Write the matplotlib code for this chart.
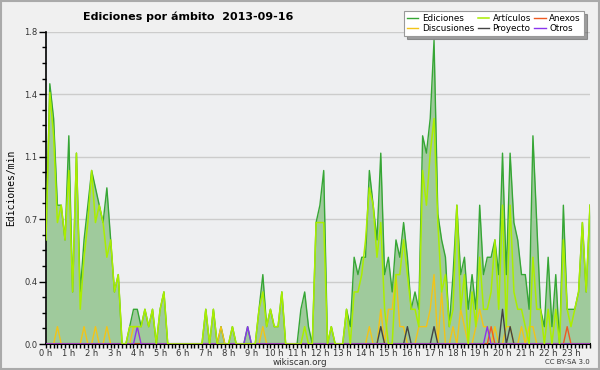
import matplotlib
matplotlib.use("Agg")
import matplotlib.pyplot as plt
import numpy as np
from matplotlib.ticker import FixedLocator, MultipleLocator, FuncFormatter
from matplotlib.patches import Rectangle

# 10-minute slots, 144 per day (edits per minute)
ediciones = [
    0.6, 1.5, 1.3, 0.8, 0.8, 0.6,
    1.2, 0.3, 1.1, 0.3, 0.6, 0.8,
    1.0, 0.9, 0.8, 0.7, 0.9, 0.6,
    0.3, 0.4, 0.0, 0.0, 0.1, 0.2,
    0.2, 0.1, 0.2, 0.1, 0.2, 0.0,
    0.2, 0.3, 0.0, 0.0, 0.0, 0.0,
    0.0, 0.0, 0.0, 0.0, 0.0, 0.0,
    0.2, 0.0, 0.2, 0.0, 0.1, 0.0,
    0.0, 0.1, 0.0, 0.0, 0.0, 0.1,
    0.0, 0.0, 0.2, 0.4, 0.1, 0.2,
    0.1, 0.1, 0.3, 0.0, 0.0, 0.0,
    0.0, 0.2, 0.3, 0.1, 0.0, 0.7,
    0.8, 1.0, 0.0, 0.1, 0.0, 0.0,
    0.0, 0.2, 0.1, 0.5, 0.4, 0.5,
    0.5, 1.0, 0.8, 0.6, 1.1, 0.4,
    0.5, 0.3, 0.6, 0.5, 0.7, 0.5,
    0.2, 0.3, 0.2, 1.2, 1.1, 1.3,
    1.75, 0.75, 0.6, 0.5, 0.1, 0.4,
    0.8, 0.4, 0.5, 0.2, 0.4, 0.2,
    0.8, 0.4, 0.5, 0.5, 0.6, 0.4,
    1.1, 0.4, 1.1, 0.7, 0.6, 0.4,
    0.4, 0.2, 1.2, 0.7, 0.2, 0.1,
    0.5, 0.1, 0.4, 0.0, 0.8, 0.2,
    0.2, 0.2, 0.3, 0.7, 0.3, 0.8,
]
articulos = [
    0.6, 1.45, 1.2, 0.7, 0.8, 0.6,
    1.0, 0.3, 1.1, 0.2, 0.5, 0.7,
    1.0, 0.7, 0.8, 0.7, 0.5, 0.6,
    0.3, 0.4, 0.0, 0.0, 0.1, 0.1,
    0.1, 0.1, 0.2, 0.1, 0.2, 0.0,
    0.2, 0.3, 0.0, 0.0, 0.0, 0.0,
    0.0, 0.0, 0.0, 0.0, 0.0, 0.0,
    0.2, 0.0, 0.2, 0.0, 0.0, 0.0,
    0.0, 0.1, 0.0, 0.0, 0.0, 0.0,
    0.0, 0.0, 0.2, 0.3, 0.1, 0.2,
    0.1, 0.1, 0.3, 0.0, 0.0, 0.0,
    0.0, 0.0, 0.1, 0.0, 0.0, 0.7,
    0.7, 0.7, 0.0, 0.1, 0.0, 0.0,
    0.0, 0.2, 0.0, 0.3, 0.3, 0.4,
    0.6, 0.9, 0.8, 0.5, 0.7, 0.2,
    0.0, 0.0, 0.4, 0.4, 0.6, 0.4,
    0.2, 0.2, 0.1, 1.0, 0.8, 1.1,
    1.3, 0.7, 0.3, 0.4, 0.1, 0.2,
    0.8, 0.2, 0.4, 0.0, 0.3, 0.1,
    0.5, 0.2, 0.2, 0.3, 0.6, 0.2,
    0.8, 0.1, 0.8, 0.3, 0.2, 0.2,
    0.1, 0.0, 0.5, 0.2, 0.2, 0.0,
    0.2, 0.0, 0.2, 0.0, 0.6, 0.2,
    0.1, 0.2, 0.3, 0.7, 0.3, 0.8,
]
discusiones = [0.0] * 144
for k, v in {3: 0.1, 10: 0.1, 13: 0.1, 16: 0.1, 23: 0.1, 24: 0.1, 46: 0.1, 57: 0.1,
             85: 0.1, 88: 0.2, 90: 0.2, 91: 0.2, 92: 0.4, 93: 0.1, 94: 0.1,
             98: 0.1, 99: 0.1, 100: 0.1, 101: 0.2, 102: 0.4, 104: 0.3,
             107: 0.1, 109: 0.2, 110: 0.1, 113: 0.1, 114: 0.2, 115: 0.1, 116: 0.1,
             118: 0.1, 121: 0.1, 122: 0.1, 125: 0.1, 127: 0.1, 128: 0.1}.items():
    discusiones[k] = v
proyecto = [0.0] * 144
for k, v in {88: 0.1, 95: 0.1, 102: 0.1, 120: 0.2, 122: 0.1}.items():
    proyecto[k] = v
anexos = [0.0] * 144
for k, v in {117: 0.1, 137: 0.1}.items():
    anexos[k] = v
otros = [0.0] * 144
for k, v in {24: 0.1, 53: 0.1, 116: 0.1}.items():
    otros[k] = v

hour_labels = [f"{h} h" for h in range(24)]
series_names = ["Ediciones", "Discusiones", "Artículos", "Proyecto", "Anexos", "Otros"]

x = np.arange(144) / 6.0

fig = plt.figure(figsize=(6, 3.7), dpi=100, facecolor="#f0f0f0")
ax = fig.add_axes([46 / 600, 26 / 370, 544 / 600, 312.3 / 370])
ax.set_facecolor("#eeeff1")

ax.fill_between(x, ediciones, 0, color="#9fca9c", lw=0, zorder=2)
l_ed, = ax.plot(x, ediciones, color="#36a635", lw=1.0, zorder=3, label="Ediciones")
l_di, = ax.plot(x, discusiones, color="#f2c418", lw=1.0, zorder=4, label="Discusiones")
l_pr, = ax.plot(x, proyecto, color="#444444", lw=1.0, zorder=4, label="Proyecto")
l_an, = ax.plot(x, anexos, color="#ee5a22", lw=1.0, zorder=4, label="Anexos")
l_ot, = ax.plot(x, otros, color="#8a35ee", lw=1.0, zorder=4, label="Otros")
l_ar, = ax.plot(x, articulos, color="#aaee00", lw=1.1, zorder=5, label="Artículos")

ax.set_xlim(0, 143 / 6.0)
ax.set_ylim(0, 1.8)

yt = [0, 0.36, 0.72, 1.08, 1.44, 1.8]
ax.yaxis.set_major_locator(FixedLocator(yt))
ax.yaxis.set_major_formatter(FuncFormatter(lambda v, p: f"{v:.1f}"))
ax.yaxis.set_minor_locator(MultipleLocator(0.09))
ax.set_xticks(range(24))
ax.set_xticklabels(hour_labels)
ax.xaxis.set_minor_locator(MultipleLocator(1 / 6))

ax.tick_params(axis="both", which="both", direction="out", color="black", width=1)
ax.tick_params(axis="y", which="major", length=5, labelsize=6, pad=1, labelcolor="#333333")
ax.tick_params(axis="y", which="minor", length=3)
ax.tick_params(axis="x", which="major", length=3, labelsize=6, pad=0.5, labelcolor="#333333")
ax.tick_params(axis="x", which="minor", length=3)

ax.grid(axis="y", which="major", color="#cccccc", lw=1, zorder=1)
for s in ["top", "right"]:
    ax.spines[s].set_visible(False)
ax.spines["left"].set_linewidth(1.2)
ax.spines["bottom"].set_linewidth(1.5)

ax.set_ylabel("Ediciones/min", fontsize=7, family="DejaVu Sans Mono", labelpad=6)

fig.text(188 / 600, 1 - 17 / 370, "Ediciones por ámbito  2013-09-16", ha="center", va="center",
         fontsize=8, fontweight="bold")

handles = [l_ed, l_di, l_ar, l_pr, l_an, l_ot]
leg = fig.legend(handles, series_names, ncol=3, loc="upper left",
                 bbox_to_anchor=(404 / 600, 1 - 11 / 370), fontsize=6.3,
                 frameon=True, fancybox=False, shadow=True, handlelength=1.3,
                 handletextpad=0.4, columnspacing=0.4, labelspacing=0.15,
                 borderpad=0.35, borderaxespad=0)
leg.get_frame().set_facecolor("white")
leg.get_frame().set_edgecolor("#999999")
leg.get_frame().set_linewidth(0.8)

fig.text(0.5, 1 - 362.5 / 370, "wikiscan.org", ha="center", va="center", fontsize=6.3, color="#333333")
fig.text(590 / 600, 1 - 362.5 / 370, "CC BY-SA 3.0", ha="right", va="center", fontsize=5, color="#333333")

fig.patches.append(Rectangle((0.002, 0.003), 0.996, 0.994, transform=fig.transFigure,
                             fill=False, edgecolor="#aaaaaa", lw=1.5))

fig.savefig("out.png", dpi=100, facecolor=fig.get_facecolor())
